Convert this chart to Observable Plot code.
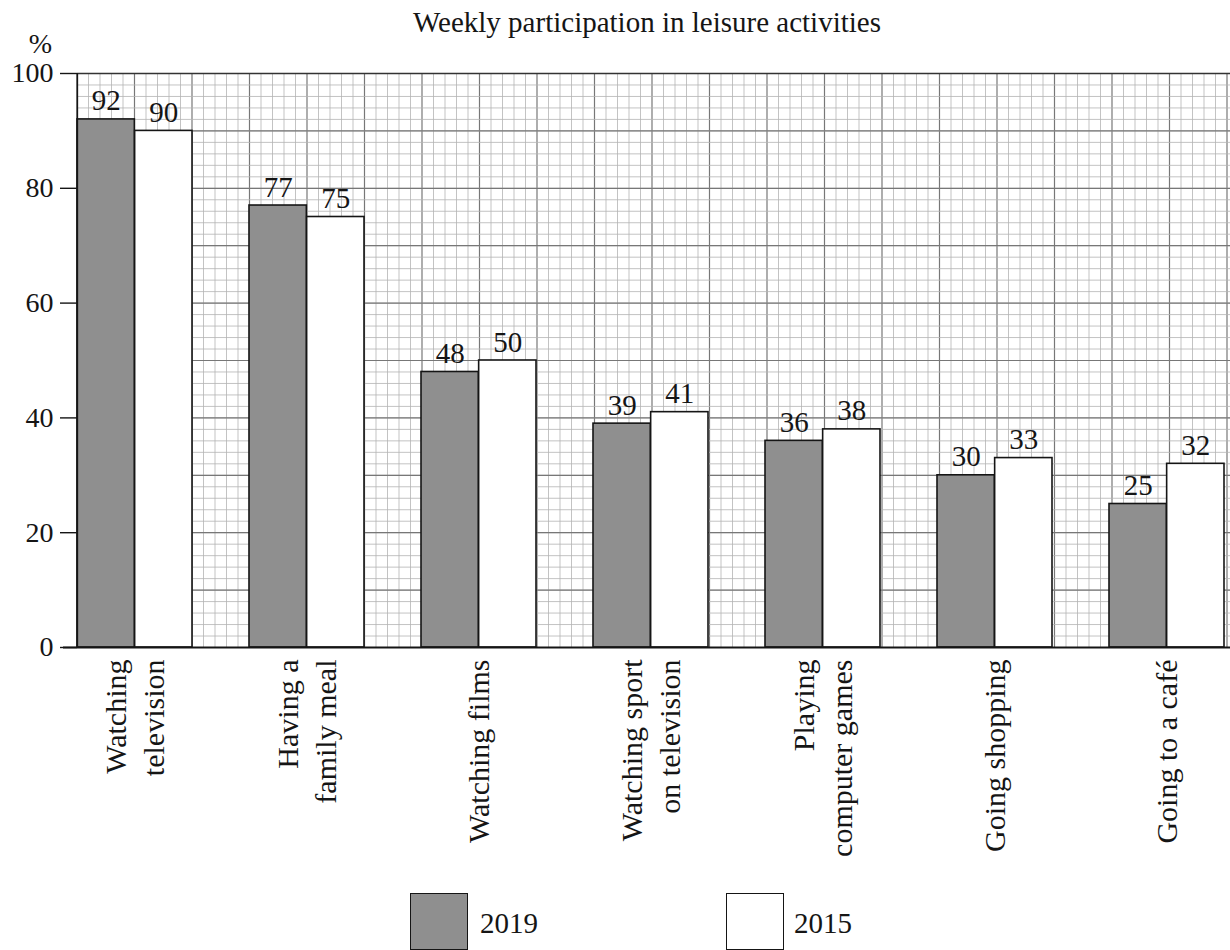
<!DOCTYPE html>
<html>
<head>
<meta charset="utf-8">
<script src="https://cdn.jsdelivr.net/npm/d3@7"></script>
<script src="https://cdn.jsdelivr.net/npm/@observablehq/plot@0.6"></script>
<style>
  body { margin: 0; background: #fff; font-family: "Liberation Serif", "Times New Roman", serif; color: #151515; }
  #wrap { position: relative; width: 1230px; height: 950px; overflow: hidden; }
  #title { position: absolute; top: 6px; left: 0; width: 1294px; text-align: center; font-size: 29px; line-height: 32px; }
  #chart { position: absolute; left: 0; top: 0; }
  .sw { position: absolute; top: 893px; width: 58px; height: 57px; box-sizing: border-box; border: 1.5px solid #151515; }
  .lt { position: absolute; top: 909px; font-size: 29px; line-height: 28px; }
</style>
</head>
<body>
<div id="wrap">
  <div id="chart"></div>
  <div id="title">Weekly participation in leisure activities</div>
  <div id="legend"></div>
</div>
<script>
// ---- data ----
const activities = [
  "Watching\ntelevision",
  "Having a\nfamily meal",
  "Watching films",
  "Watching sport\non television",
  "Playing\ncomputer games",
  "Going shopping",
  "Going to a café"
];
const values2019 = [92, 77, 48, 39, 36, 30, 25];
const values2015 = [90, 75, 50, 41, 38, 33, 32];
const years = ["2019", "2015"];
const yTicks = [0, 20, 40, 60, 80, 100];
const yearColors = ["#8f8f8f", "#ffffff"];

const rows = activities.map((a, i) => ({activity: a, v2019: values2019[i], v2015: values2015[i]}));

// ---- layout ----
const W = 1230, H = 880, mL = 77, mR = 0, mT = 73, mB = 233;
const padInner = 1 / 3;
const step = (W - mL - mR) / (activities.length - padInner);
const bandwidth = step * (1 - padInner);
const half = bandwidth / 2;
const ink = "#151515";

function verticalGrid(index, scales, values, dims) {
  const {width, height, marginLeft, marginRight, marginTop, marginBottom} = dims;
  const sx = scales.x;
  const bw = (sx && typeof sx.bandwidth === "function") ? sx.bandwidth() : bandwidth;
  const x0 = (sx && sx(activities[0]) != null) ? sx(activities[0]) : marginLeft;
  const cell = bw / 10;
  const g = d3.create("svg:g");
  const xEnd = width - marginRight;
  for (let k = 0; x0 + k * cell <= xEnd + 0.5; k++) {
    const x = x0 + k * cell;
    g.append("line")
      .attr("x1", x).attr("x2", x)
      .attr("y1", marginTop).attr("y2", height - marginBottom)
      .attr("stroke", k % 5 === 0 ? "#777" : "#b4b4b4")
      .attr("stroke-width", k % 5 === 0 ? 1.2 : 0.8);
  }
  return g.node();
}

const chart = Plot.plot({
  width: W,
  height: H,
  marginLeft: mL,
  marginRight: mR,
  marginTop: mT,
  marginBottom: mB,
  style: {fontFamily: "'Liberation Serif', 'Times New Roman', serif", background: "transparent", color: ink, overflow: "visible"},
  x: {type: "band", domain: activities, paddingInner: padInner, paddingOuter: 0, align: 0, axis: null},
  y: {domain: [0, 100], axis: null},
  marks: [
    verticalGrid,
    Plot.ruleY(d3.range(0, 101, 2), {stroke: "#b4b4b4", strokeWidth: 0.8}),
    Plot.ruleY(d3.range(0, 101, 10), {stroke: "#777", strokeWidth: 1.2}),
    Plot.ruleY([100], {stroke: "#333", strokeWidth: 1.4}),
    Plot.barY(rows, {x: "activity", y: "v2019", insetRight: half, fill: yearColors[0], stroke: ink, strokeWidth: 1.6}),
    Plot.barY(rows, {x: "activity", y: "v2015", insetLeft: half, fill: yearColors[1], stroke: ink, strokeWidth: 1.6}),
    Plot.text(rows, {x: "activity", y: "v2019", text: d => String(d.v2019), dx: -half / 2, dy: -9, lineAnchor: "bottom", fontSize: 29, fill: ink}),
    Plot.text(rows, {x: "activity", y: "v2015", text: d => String(d.v2015), dx: half / 2, dy: -9, lineAnchor: "bottom", fontSize: 29, fill: ink}),
    Plot.ruleX([0], {x: () => activities[0], dx: -half, stroke: ink, strokeWidth: 1.6, y1: 0, y2: 100}),
    Plot.ruleY([0], {stroke: ink, strokeWidth: 1.8, insetLeft: -14}),
    Plot.axisY(yTicks, {tickSize: 17, tickPadding: 7, fontSize: 28, label: null, stroke: ink, strokeWidth: 1.4, fill: ink}),
    Plot.text(activities, {x: d => d, text: d => d, frameAnchor: "bottom", rotate: -90, textAnchor: "end", lineAnchor: "middle", dy: 12, dx: -2, lineHeight: 1.27, fontSize: 30, fill: ink}),
    Plot.text(["%"], {frameAnchor: "top-left", text: d => d, textAnchor: "middle", lineAnchor: "middle", dx: -37, dy: -29, fontSize: 28, fill: ink})
  ]
});
document.getElementById("chart").appendChild(chart);

// ---- legend ----
const legend = document.getElementById("legend");
const swatchLeft = [410, 726];
const textLeft = [480, 794];
years.forEach((yr, i) => {
  const sw = document.createElement("div");
  sw.className = "sw";
  sw.style.left = swatchLeft[i] + "px";
  sw.style.background = yearColors[i];
  legend.appendChild(sw);
  const t = document.createElement("div");
  t.className = "lt";
  t.style.left = textLeft[i] + "px";
  t.textContent = yr;
  legend.appendChild(t);
});
</script>
</body>
</html>
